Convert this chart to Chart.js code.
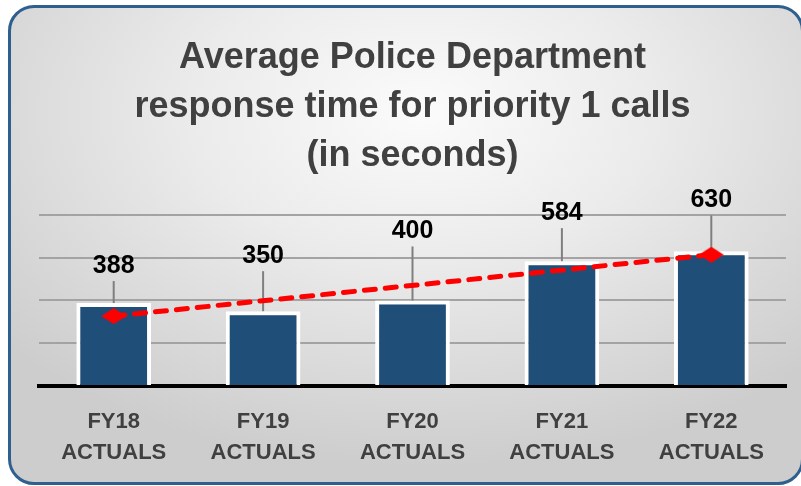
<!DOCTYPE html>
<html>
<head>
<meta charset="utf-8">
<script src="https://cdn.jsdelivr.net/npm/chart.js@4/dist/chart.umd.min.js"></script>
<style>
  html, body { margin: 0; padding: 0; background: #ffffff; }
  #wrap { position: relative; width: 801px; height: 486px; overflow: hidden; }
  #frame {
    position: absolute; left: 8px; top: 5px; width: 790px; height: 474px;
    border: 3px solid #2f5f8f; border-radius: 26px;
    background: radial-gradient(ellipse 70% 75% at 52% 22%, #fbfbfb 0%, #ebebeb 42%, #d8d8d8 78%, #cdcdcd 100%);
  }
  #chart { position: absolute; left: 0; top: 0; }
</style>
</head>
<body>
<div id="wrap">
  <div id="frame"></div>
  <canvas id="chart" width="801" height="486"></canvas>
</div>
<script>
// chart values
const titleLines = ['Average Police Department', 'response time for priority 1 calls', '(in seconds)'];
const fiscalYears = ['FY18', 'FY19', 'FY20', 'FY21', 'FY22'];
const yearSuffix = 'ACTUALS';
const responseSeconds = [388, 350, 400, 584, 630];
// trend line end points (linear trendline in the original)
const trendSeconds = [327, null, null, null, 614];
const yTicks = [0, 200, 400, 600, 800];

// how far (px) each value label sits above its bar
const labelRise = [37, 55, 69, 48, 51];

const FONT = "'Liberation Sans', Arial, sans-serif";

// flattened diamond marker like the excel one
function diamond(w, h, color) {
    const c = document.createElement('canvas');
    c.width = w; c.height = h;
    const g = c.getContext('2d');
    g.fillStyle = color;
    g.beginPath();
    g.moveTo(w / 2, 0);
    g.lineTo(w, h / 2);
    g.lineTo(w / 2, h);
    g.lineTo(0, h / 2);
    g.closePath();
    g.fill();
    return c;
}
const marker = diamond(25, 16, '#ff0000');

// value labels with leader lines
const leaderLabels = {
    id: 'leaderLabels',
    afterDatasetDraw(chart, args) {
        if (args.index !== 0) return;
        const ctx = chart.ctx;
        const meta = chart.getDatasetMeta(0);
        ctx.save();
        meta.data.forEach((bar, i) => {
            const cy = bar.y - labelRise[i];
            ctx.strokeStyle = '#7f7f7f';
            ctx.lineWidth = 2;
            ctx.beginPath();
            ctx.moveTo(bar.x, cy + 15);
            ctx.lineTo(bar.x, bar.y);
            ctx.stroke();
            ctx.fillStyle = '#000000';
            ctx.font = 'bold 25px ' + FONT;
            ctx.textAlign = 'center';
            ctx.textBaseline = 'middle';
            ctx.fillText(String(responseSeconds[i]), bar.x, cy);
        });
        ctx.restore();
    }
};

const ctx = document.getElementById('chart').getContext('2d');
new Chart(ctx, {
    data: {
        labels: fiscalYears.map(fy => [fy, yearSuffix]),
        datasets: [{
            type: 'bar',
            order: 1,
            data: responseSeconds,
            backgroundColor: '#1f4e79',
            borderColor: '#ffffff',
            borderWidth: 4,
            borderSkipped: 'start',
            barPercentage: 0.5,
            categoryPercentage: 1.0
        }, {
            type: 'line',
            order: 0,
            data: trendSeconds,
            spanGaps: true,
            borderColor: '#ff0000',
            borderWidth: 5,
            borderDash: [11, 10],
            borderCapStyle: 'round',
            pointStyle: marker,
            pointRadius: 8,
            fill: false
        }]
    },
    plugins: [leaderLabels],
    options: {
        responsive: false,
        animation: false,
        layout: { padding: { left: 39, right: 15, top: 0, bottom: 0 } },
        plugins: {
            legend: { display: false },
            tooltip: { enabled: false },
            title: {
                display: true,
                text: titleLines,
                color: '#404040',
                font: { family: FONT, size: 36, weight: 'bold', lineHeight: 1.37 },
                padding: { top: 33, bottom: 34 }
            }
        },
        scales: {
            x: {
                grid: { display: false, drawTicks: false },
                border: { display: true, color: '#000000', width: 4 },
                ticks: {
                    color: '#404040',
                    padding: 21,
                    maxRotation: 0,
                    font: { family: FONT, size: 22, weight: 'bold', lineHeight: 1.4 }
                },
                afterFit(scale) { scale.height = 100; }
            },
            y: {
                min: yTicks[0],
                max: yTicks[yTicks.length - 1],
                afterBuildTicks(scale) { scale.ticks = yTicks.map(v => ({ value: v })); },
                ticks: { display: false },
                border: { display: false },
                grid: {
                    drawTicks: false,
                    lineWidth: 2,
                    color: c => c.tick && c.tick.value === 0 ? 'rgba(0,0,0,0)' : '#a3a3a3'
                }
            }
        }
    }
});
</script>
</body>
</html>
